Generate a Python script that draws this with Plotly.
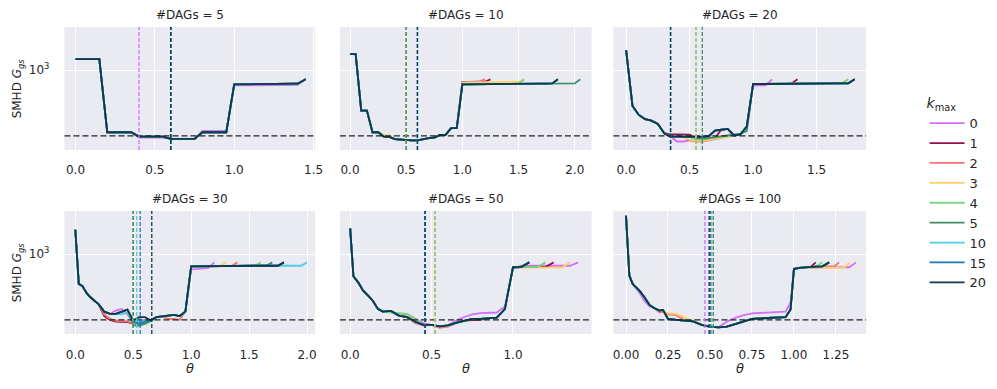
import plotly.graph_objects as go
from plotly.subplots import make_subplots

K_MAX = [0, 1, 2, 3, 4, 5, 10, 15, 20]
COLORS = {
    0: "#d46ef5", 1: "#990f4d", 2: "#f77272", 3: "#ffd166", 4: "#7dd67d",
    5: "#3e8e68", 10: "#4fcbe8", 15: "#1f78b4", 20: "#0c3a4b",
}
N_DAGS = [5, 10, 20, 30, 50, 100]
REF_SMHD = 500  # horizontal dashed reference

# ---- #DAGs = 5 ----
THETA_5 = [0.0, 0.05, 0.1, 0.15, 0.2, 0.25, 0.3, 0.35, 0.4, 0.45, 0.5, 0.55, 0.6, 0.65, 0.7,
           0.75, 0.8, 0.85, 0.9, 0.95, 1.0, 1.05, 1.1, 1.15, 1.2, 1.25, 1.3, 1.35, 1.4, 1.45]
SMHD_5 = [1123, 1123, 1123, 1123, 519, 519, 519, 519, 496, 496, 496, 496, 484, 484, 484,
          484, 519, 519, 519, 519, 860, 860, 861, 862, 862, 863, 864, 865, 866, 866]
DEV_5 = {0: {0.4: 490, 0.45: 490, 0.5: 490, 0.55: 490, 0.8: 527, 0.85: 527, 0.9: 527, 0.95: 527,
             1.0: 850, 1.05: 850, 1.1: 851, 1.15: 852, 1.2: 852, 1.25: 853, 1.3: 854, 1.35: 855, 1.4: 856}}
END_5 = {0: 1.45, 1: 1.45, 2: 1.45, 3: 1.45, 4: 1.45, 5: 1.45, 10: 1.45, 15: 1.45, 20: 1.45}
PEAK_5 = 907
BEST_5 = {0: 0.4, 1: 0.6, 2: 0.6, 3: 0.6, 4: 0.6, 5: 0.6, 10: 0.6, 15: 0.6, 20: 0.6}

# ---- #DAGs = 10 ----
THETA_10 = [0.0, 0.05, 0.1, 0.15, 0.2, 0.25, 0.3, 0.35, 0.4, 0.45, 0.5, 0.55, 0.6, 0.65, 0.7,
            0.75, 0.8, 0.85, 0.9, 0.95, 1.0, 1.05, 1.1, 1.15, 1.2, 1.25, 1.3, 1.35, 1.4, 1.45,
            1.5, 1.55, 1.6, 1.65, 1.7, 1.75, 1.8, 1.85, 1.9, 1.95, 2.0, 2.05]
SMHD_10 = [1183, 1183, 652, 652, 519, 519, 496, 494, 483, 480, 480, 476, 476, 483, 488,
           490, 505, 505, 542, 542, 860, 860, 861, 861, 862, 862, 863, 863, 864, 864,
           865, 865, 866, 866, 867, 867, 868, 868, 869, 869, 869, 869]
DEV_10 = {
    0: {1.0: 880, 1.05: 882, 1.1: 884, 1.15: 884},
    1: {1.0: 880, 1.05: 882, 1.1: 884, 1.15: 884, 1.2: 884},
    2: {1.0: 878, 1.05: 880, 1.1: 882, 1.15: 882},
    3: {0.3: 505, 0.35: 502, 1.0: 876, 1.05: 878, 1.1: 879, 1.15: 880, 1.2: 881, 1.25: 882,
        1.3: 883, 1.35: 884, 1.4: 884, 1.45: 884, 1.5: 884},
}
END_10 = {0: 1.2, 1: 1.25, 2: 1.2, 3: 1.55, 4: 1.55, 5: 2.05, 10: 1.85, 15: 1.85, 20: 1.85}
PEAK_10 = 907
BEST_10 = {0: 0.5, 1: 0.5, 2: 0.5, 3: 0.5, 4: 0.5, 5: 0.5, 10: 0.6, 15: 0.6, 20: 0.6}

# ---- #DAGs = 20 ----
THETA_20 = [0.0, 0.05, 0.1, 0.15, 0.2, 0.25, 0.3, 0.35, 0.4, 0.45, 0.5, 0.55, 0.6, 0.65, 0.7,
            0.75, 0.8, 0.85, 0.9, 0.95, 1.0, 1.05, 1.1, 1.15, 1.2, 1.25, 1.3, 1.35, 1.4, 1.45,
            1.5, 1.55, 1.6, 1.65, 1.7, 1.75, 1.8]
SMHD_20 = [1234, 685, 623, 596, 587, 567, 514, 496, 496, 496, 494, 494, 494, 498, 528,
           533, 538, 502, 508, 551, 863, 863, 864, 864, 865, 865, 866, 866, 867, 867,
           868, 868, 868, 869, 869, 869, 869]
DEV_20 = {
    0: {0.4: 471, 0.45: 471, 0.5: 476, 0.55: 480, 0.6: 486, 0.65: 490, 1.0: 848, 1.05: 850, 1.1: 852},
    1: {0.35: 508, 0.4: 508, 0.45: 508, 0.5: 506, 0.55: 490, 0.6: 484, 0.65: 486, 0.7: 490},
    2: {0.5: 476, 0.55: 470, 0.6: 470, 0.65: 476, 0.7: 482, 0.75: 488, 0.8: 494, 0.85: 498},
    3: {0.5: 480, 0.55: 474, 0.6: 474, 0.65: 480, 0.7: 486, 0.75: 490, 0.8: 496},
    4: {0.55: 480, 0.6: 480, 0.65: 485, 0.7: 490, 0.75: 495, 0.8: 500, 0.85: 505, 0.9: 510},
    5: {0.6: 484, 0.65: 488, 0.7: 492, 0.75: 496, 0.8: 500, 0.85: 505, 0.9: 512, 0.95: 525},
}
END_20 = {0: 1.15, 1: 1.35, 2: 1.75, 3: 1.75, 4: 1.75, 5: 1.8, 10: 1.8, 15: 1.8, 20: 1.8}
PEAK_20 = 907
BEST_20 = {0: 0.55, 1: 0.55, 2: 0.55, 3: 0.55, 4: 0.55, 5: 0.6, 10: 0.35, 15: 0.35, 20: 0.35}

# ---- #DAGs = 30 ----
THETA_30 = [0.0, 0.03, 0.06, 0.1, 0.13, 0.16, 0.2, 0.25, 0.3, 0.35, 0.4, 0.45, 0.5, 0.55, 0.6,
            0.65, 0.7, 0.75, 0.8, 0.85, 0.9, 0.95, 1.0, 1.05, 1.1, 1.15, 1.2, 1.25, 1.3, 1.35,
            1.4, 1.45, 1.5, 1.55, 1.6, 1.65, 1.7, 1.75, 1.8, 1.85, 1.9, 1.95, 2.0]
SMHD_30 = [1291, 729, 715, 660, 634, 615, 590, 545, 532, 532, 545, 557, 496, 514, 514,
           498, 514, 518, 523, 527, 520, 545, 879, 880, 880, 881, 881, 882, 882, 883,
           883, 883, 884, 884, 884, 884, 884, 884, 884, 884, 884, 884, 884]
DEV_30 = {
    0: {0.35: 551, 0.4: 560, 0.45: 530, 0.5: 485, 0.55: 490, 0.6: 500,
        1.0: 850, 1.05: 855, 1.1: 860, 1.15: 865},
    1: {0.25: 520, 0.3: 500, 0.35: 490, 0.4: 488, 0.45: 488, 0.5: 480, 0.55: 478, 0.6: 490},
    2: {0.25: 530, 0.3: 505, 0.35: 495, 0.4: 492, 0.45: 492, 0.5: 482, 0.55: 476, 0.6: 485,
        0.8: 505, 0.85: 505, 0.9: 500},
    3: {0.5: 478, 0.55: 470, 0.6: 480},
    4: {0.5: 475, 0.55: 470, 0.6: 478, 0.65: 490},
    5: {0.5: 472, 0.55: 470, 0.6: 480},
    10: {0.4: 530, 0.45: 540, 0.5: 505, 0.55: 488, 0.6: 495},
    15: {0.5: 490, 0.55: 480, 0.6: 490},
}
END_30 = {0: 1.2, 1: 1.8, 2: 1.4, 3: 1.3, 4: 1.6, 5: 1.7, 10: 2.0, 15: 1.8, 20: 1.8}
PEAK_30 = 916
BEST_30 = {0: 0.5, 1: 0.5, 2: 0.5, 3: 0.5, 4: 0.5, 5: 0.5, 10: 0.53, 15: 0.56, 20: 0.66}

# ---- #DAGs = 50 ----
THETA_50 = [0.0, 0.02, 0.05, 0.08, 0.11, 0.14, 0.17, 0.2, 0.25, 0.3, 0.35, 0.4, 0.45, 0.5,
            0.55, 0.6, 0.65, 0.7, 0.75, 0.8, 0.85, 0.9, 0.95, 1.0, 1.05, 1.1, 1.15, 1.2,
            1.25, 1.3, 1.35, 1.4]
SMHD_50 = [1310, 791, 740, 680, 645, 610, 561, 545, 549, 523, 514, 490, 474, 474,
           467, 472, 484, 496, 505, 505, 510, 512, 560, 870, 872, 872, 872, 872,
           872, 872, 872, 872]
DEV_50 = {
    0: {0.35: 530, 0.4: 505, 0.45: 482, 0.65: 496, 0.7: 515, 0.75: 530, 0.8: 537, 0.85: 537,
        0.9: 540, 0.95: 575, 1.0: 860, 1.05: 884, 1.1: 884, 1.15: 884, 1.2: 884, 1.25: 884,
        1.3: 884, 1.35: 884},
    1: {0.6: 468, 0.75: 498, 0.8: 500},
    2: {0.4: 482, 0.45: 470, 0.55: 460, 0.6: 465},
    3: {0.3: 527, 0.35: 520, 1.05: 866, 1.1: 866, 1.15: 866, 1.2: 866, 1.25: 866, 1.3: 866},
    4: {0.25: 540, 0.3: 534, 0.35: 532, 0.4: 505},
}
END_50 = {0: 1.4, 1: 1.25, 2: 1.1, 3: 1.35, 4: 1.2, 5: 1.1, 10: 1.1, 15: 1.1, 20: 1.1}
PEAK_50 = 916
BEST_50 = {0: 0.52, 1: 0.52, 2: 0.52, 3: 0.52, 4: 0.52, 5: 0.46, 10: 0.46, 15: 0.46, 20: 0.46}

# ---- #DAGs = 100 ----
THETA_100 = [0.0, 0.01, 0.02, 0.04, 0.08, 0.11, 0.14, 0.17, 0.2, 0.22, 0.25, 0.3, 0.35,
             0.4, 0.45, 0.5, 0.55, 0.6, 0.65, 0.7, 0.75, 0.8, 0.85, 0.9, 0.95, 0.98, 1.0,
             1.03, 1.06, 1.1, 1.13, 1.17, 1.21, 1.24, 1.27, 1.3, 1.33, 1.37]
SMHD_100 = [1496, 1018, 796, 729, 680, 634, 585, 565, 551, 555, 505, 500, 496,
            492, 474, 465, 462, 465, 478, 490, 505, 508, 510, 510, 514, 557, 854,
            865, 870, 873, 876, 879, 879, 879, 879, 879, 879, 879]
DEV_100 = {
    0: {0.08: 665, 0.11: 610, 0.14: 575, 0.6: 490, 0.65: 510, 0.7: 525, 0.75: 535, 0.8: 537,
        0.85: 537, 0.9: 540, 0.95: 545, 0.98: 601, 1.0: 860, 1.03: 862, 1.06: 864, 1.1: 866,
        1.13: 868, 1.17: 870, 1.21: 870, 1.24: 870, 1.27: 870, 1.3: 870, 1.33: 870},
    2: {0.2: 540, 0.22: 545, 0.25: 530, 0.3: 525},
    3: {0.25: 535, 0.3: 532, 0.35: 510, 1.03: 865, 1.06: 866, 1.1: 866, 1.13: 866, 1.17: 866,
        1.21: 866, 1.24: 866, 1.27: 866, 1.3: 866},
}
END_100 = {0: 1.37, 1: 1.13, 2: 1.27, 3: 1.33, 4: 1.17, 5: 1.21, 10: 1.21, 15: 1.21, 20: 1.21}
PEAK_100 = 916
BEST_100 = {0: 0.47, 1: 0.5, 2: 0.5, 3: 0.5, 4: 0.52, 5: 0.52, 10: 0.5, 15: 0.505, 20: 0.495}

PANELS = [
    (THETA_5, SMHD_5, DEV_5, END_5, PEAK_5, BEST_5),
    (THETA_10, SMHD_10, DEV_10, END_10, PEAK_10, BEST_10),
    (THETA_20, SMHD_20, DEV_20, END_20, PEAK_20, BEST_20),
    (THETA_30, SMHD_30, DEV_30, END_30, PEAK_30, BEST_30),
    (THETA_50, SMHD_50, DEV_50, END_50, PEAK_50, BEST_50),
    (THETA_100, SMHD_100, DEV_100, END_100, PEAK_100, BEST_100),
]
X_RANGES = [[-0.07, 1.51], [-0.09, 2.15], [-0.1, 1.89], [-0.094, 2.07], [-0.063, 1.483], [-0.075, 1.43]]
X_DTICK = [0.5, 0.5, 0.5, 0.5, 0.5, 0.25]
X_FMT = [".1f", ".1f", ".1f", ".1f", ".1f", ".2f"]

W, H = 997, 389
COL_PX = [(64, 317), (342, 596), (618, 873)]
ROW_PX = [(27, 150), (211, 334)]

FONT = "DejaVu Sans"
TXT = "#262626"


def curve(theta, base, dev, end, peak, k):
    xs, ys = [], []
    over = dev.get(k, {})
    for t, v in zip(theta, base):
        if t > end[k] + 1e-9:
            break
        xs.append(t)
        ys.append(over.get(t, v))
    ys[-1] = peak
    return xs, ys


fig = make_subplots(rows=2, cols=3)

for i, (theta, base, dev, end, peak, best) in enumerate(PANELS):
    r, c = i // 3 + 1, i % 3 + 1
    for k in K_MAX:
        xs, ys = curve(theta, base, dev, end, peak, k)
        fig.add_trace(
            go.Scatter(
                x=xs, y=ys, mode="lines", name=str(k), legendgroup=str(k),
                showlegend=(i == 0), line=dict(color=COLORS[k], width=1.8),
            ),
            row=r, col=c,
        )
    fig.add_hline(y=REF_SMHD, line=dict(color="#222222", width=1.3, dash="6px,3px"), row=r, col=c)
    for k in K_MAX:
        fig.add_vline(x=best[k], line=dict(color=COLORS[k], width=1.3, dash="4px,2px"), row=r, col=c)

    ax = "" if i == 0 else str(i + 1)
    x0, x1 = COL_PX[c - 1]
    y0, y1 = ROW_PX[r - 1]
    fig.layout["xaxis" + ax].update(
        domain=[x0 / W, x1 / W], range=X_RANGES[i], dtick=X_DTICK[i], tick0=0,
        tickformat=X_FMT[i], showgrid=True, gridcolor="white", gridwidth=1.3,
        zeroline=False, showline=False, ticks="", ticklabelstandoff=11 if r == 1 else 12,
        tickfont=dict(size=12, color=TXT, family=FONT),
    )
    fig.layout["yaxis" + ax].update(
        domain=[1 - y1 / H, 1 - y0 / H], type="log", range=[2.634, 3.197],
        tickvals=[1000], ticktext=["10<sup>3</sup>"], showticklabels=(c == 1),
        showgrid=True, gridcolor="white", gridwidth=1.3, zeroline=False, showline=False,
        ticks="", ticklabelstandoff=14, tickfont=dict(size=12, color=TXT, family=FONT),
    )
    fig.add_annotation(
        text=f"#DAGs = {N_DAGS[i]}", xref=f"x{ax} domain", yref=f"y{ax} domain",
        x=0.5, y=1, xanchor="center", yanchor="bottom", yshift=3, showarrow=False,
        font=dict(size=12, color=TXT, family=FONT),
    )
    if c == 1:
        fig.add_annotation(
            text="SMHD <i>G</i><sub><i>gs</i></sub>", textangle=-90, xref="paper",
            yref=f"y{ax} domain", x=17 / W, y=0.5, xanchor="center", yanchor="middle",
            showarrow=False, font=dict(size=12, color=TXT, family=FONT),
        )
    if r == 2:
        fig.add_annotation(
            text="<i>θ</i>", xref=f"x{ax} domain", yref="paper", x=0.5, y=1 - 368 / H,
            xanchor="center", yanchor="middle", showarrow=False,
            font=dict(size=13, color=TXT, family=FONT),
        )

fig.update_layout(
    width=W, height=H, margin=dict(l=0, r=0, t=0, b=0),
    paper_bgcolor="white", plot_bgcolor="#eaeaf2",
    font=dict(family=FONT, size=12, color=TXT),
    legend=dict(
        x=932 / W, y=1 - 90 / H, xanchor="left", yanchor="top",
        title=dict(text="<i>k</i><sub>max</sub>", font=dict(size=14), side="top"),
        font=dict(size=13), itemwidth=35, tracegroupgap=0, bgcolor="rgba(0,0,0,0)",
    ),
)

fig.write_html(
    "out.html",
    config={"displayModeBar": False},
    post_script="document.body.style.margin = '0';",
)
